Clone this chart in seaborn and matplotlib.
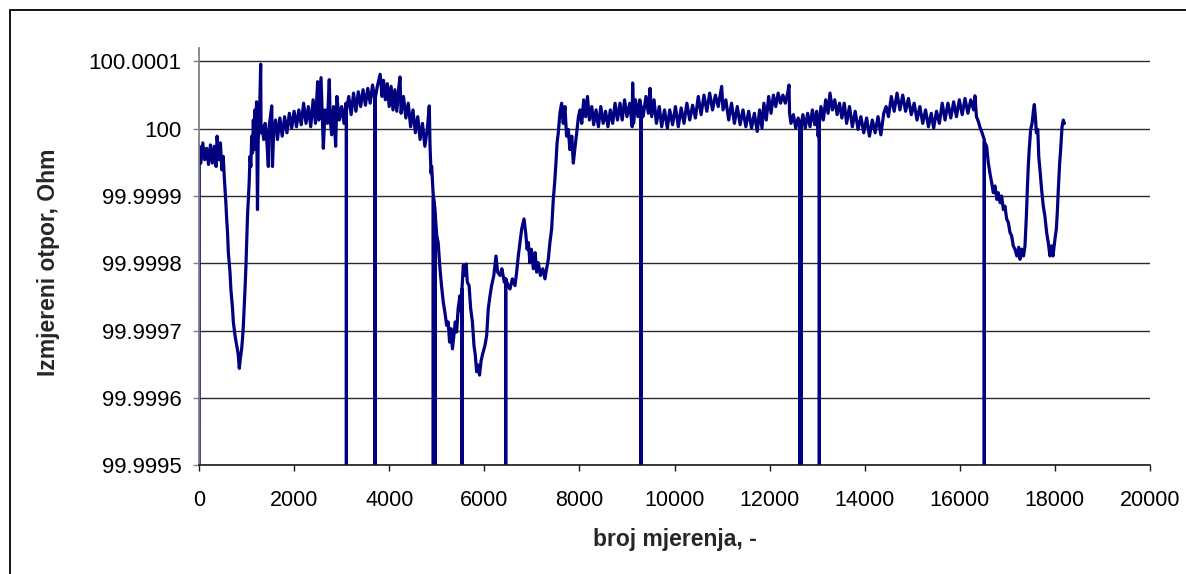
import numpy as np
import pandas as pd
import matplotlib
matplotlib.use("Agg")
import matplotlib.pyplot as plt
import seaborn as sns
from matplotlib.lines import Line2D

# ---------------- data ----------------
# deviation of the measured resistance from 100 Ohm, in micro-Ohm
L = -1000  # momentary drop-outs, far below the visible axis range

n_seg1 = [0, 5, 40, 80, 120, 160, 200, 240, 280, 320,
          360, 380, 420, 450, 480, 510, 530, 547, 565, 582,
          600, 617, 635, 652, 670, 687, 705, 722, 740, 757,
          780, 806, 825, 848, 870, 897, 915, 933, 950, 968,
          985, 1003, 1020, 1038, 1055, 1073, 1090, 1108, 1125, 1143,
          1160, 1175, 1195, 1210, 1220, 1230, 1245, 1270, 1297, 1305,
          1330, 1360, 1390, 1420, 1458, 1475, 1530, 1545, 1570, 1610,
          1650, 1700, 1750, 1800, 1850, 1900, 1950, 2000, 2050, 2100,
          2150, 2200, 2250, 2300, 2350, 2400, 2450, 2495, 2520, 2566,
          2590, 2615, 2650, 2700, 2740, 2760, 2790, 2830, 2874, 2900,
          2950, 3000, 3050, 3090, 3099, 3100, 3101]
d_seg1 = [L, -26, -51, -21, -46, -29, -53, -24, -51, -26,
          -56, -11, -46, -21, -61, -41, -70, -90, -110, -134,
          -154, -184, -199, -213, -238, -253, -267, -287, -297, -307,
          -317, -327, -336, -356, -341, -327, -312, -292, -267, -238,
          -208, -169, -130, -105, -80, -41, -56, -11, -36, 13,
          -31, 28, -16, 40, -41, -120, -16, 8, 96, -6,
          3, -16, 8, -11, -56, 3, 34, -56, -6, 13,
          -16, 16, -11, 18, -6, 23, 1, 26, 3, 28,
          6, 38, 8, 33, 3, 43, 8, 70, 13, 76,
          23, -29, 28, 8, 73, 13, -9, 33, -26, 48,
          13, 33, 8, 38, 28, L, 28]

n_seg2 = [3150, 3200, 3250, 3300, 3350, 3400, 3450, 3500, 3550, 3600,
          3650, 3699, 3700, 3701, 3750, 3810, 3850, 3880, 3920, 3960,
          4000, 4040, 4080, 4120, 4160, 4200, 4227, 4250, 4300, 4350,
          4400, 4450, 4500, 4550, 4600, 4650, 4700, 4750, 4800, 4843,
          4858, 4880, 4893, 4920, 4927, 4928, 4929, 4950, 4969, 4970,
          4971, 5000, 5030, 5068, 5100, 5138, 5170, 5208, 5240, 5270,
          5300, 5330, 5360, 5390, 5418, 5450, 5488, 5510, 5529, 5530,
          5531, 5558, 5590, 5620, 5643, 5680, 5713, 5750, 5783, 5810,
          5839, 5870, 5900, 5930, 5960, 6014, 6050, 6084, 6120, 6154,
          6200, 6246, 6280, 6330, 6370, 6420, 6449, 6450, 6451]
d_seg2 = [48, 21, 53, 26, 55, 33, 58, 35, 60, 38,
          65, 43, L, 43, 63, 81, 48, 72, 43, 67,
          33, 63, 28, 58, 26, 60, 77, 23, 48, 16,
          38, 3, 28, -6, 18, -16, 8, -26, -1, 34,
          -24, -66, -56, -90, -100, L, -100, -110, -125, L,
          -130, -159, -169, -208, -233, -258, -272, -292, -287, -317,
          -297, -327, -307, -287, -302, -267, -248, -272, -238, L,
          -238, -203, -218, -201, -228, -233, -267, -287, -322, -336,
          -361, -351, -366, -346, -336, -322, -307, -267, -248, -233,
          -218, -189, -213, -218, -208, -228, -223, L, -223]

n_seg3 = [6500, 6540, 6590, 6645, 6680, 6715, 6750, 6786, 6835, 6870,
          6900, 6926, 6960, 6990, 7031, 7070, 7100, 7136, 7180, 7230,
          7276, 7310, 7346, 7380, 7416, 7451, 7480, 7507, 7530, 7556,
          7590, 7626, 7660, 7696, 7730, 7767, 7800, 7840, 7872, 7910,
          7943, 7980, 8013, 8050, 8090, 8130, 8170, 8210, 8260, 8300,
          8350, 8400, 8450, 8500, 8550, 8600, 8650, 8700, 8750, 8800,
          8854, 8900, 8950, 9000, 9060, 9110, 9120, 9140, 9180, 9230,
          9270, 9294, 9295, 9296]
d_seg3 = [-233, -238, -223, -233, -213, -189, -169, -149, -134, -154,
          -179, -169, -199, -179, -208, -184, -213, -199, -218, -208,
          -223, -208, -194, -169, -149, -105, -80, -51, -21, -6,
          23, 38, 8, 33, -11, -1, -31, -11, -51, -26,
          -6, 18, 28, 8, 43, 18, 48, 13, 33, 6,
          28, 3, 33, 8, 26, 3, 28, 8, 38, 13,
          38, 13, 43, 18, 38, 3, 68, 8, 43, 18,
          43, 33, L, 33]

n_seg4 = [9340, 9400, 9450, 9485, 9520, 9570, 9620, 9680, 9730, 9790,
          9850, 9900, 9960, 10020, 10080, 10140, 10200, 10260, 10320, 10380,
          10440, 10500, 10560, 10620, 10680, 10740, 10800, 10860, 10920, 10992,
          11020, 11080, 11140, 11200, 11260, 11320, 11380, 11440, 11500, 11560,
          11620, 11680, 11740, 11790, 11840, 11880, 11930, 11980, 12030, 12080,
          12130, 12180, 12230, 12280, 12330, 12380, 12408, 12420, 12450, 12500,
          12550, 12600, 12639, 12640, 12641, 12659, 12660, 12661, 12700]
d_seg4 = [18, 48, 23, 60, 18, 43, 8, 33, 3, 28,
          1, 28, 6, 33, 3, 31, 8, 38, 13, 35,
          16, 48, 21, 50, 26, 53, 28, 50, 33, 63,
          28, 43, 13, 38, 8, 33, 6, 28, 3, 26,
          1, 23, -4, 28, 1, 38, 13, 48, 23, 50,
          33, 53, 38, 50, 38, 53, 65, 23, 8, 21,
          1, 16, 3, L, 3, 6, L, 6, 21]

n_seg5 = [12750, 12800, 12850, 12900, 12950, 12990, 13020, 13045, 13046, 13047,
          13080, 13130, 13180, 13230, 13270, 13320, 13370, 13420, 13470, 13520,
          13570, 13620, 13680, 13740, 13800, 13860, 13920, 13980, 14040, 14100,
          14160, 14220, 14280, 14340, 14400, 14450, 14500, 14560, 14620, 14680,
          14740, 14800, 14860, 14920, 14980, 15040, 15100, 15160, 15220, 15280,
          15340, 15400, 15450, 15510, 15570, 15630, 15690, 15750, 15810, 15870,
          15930, 15990, 16050, 16110, 16170, 16230, 16290, 16319, 16350, 16389,
          16430, 16459, 16490, 16514, 16515, 16516]
d_seg5 = [1, 23, 3, 28, 6, 26, -11, 8, L, 8,
          33, 13, 43, 23, 53, 28, 43, 21, 38, 16,
          38, 8, 33, 3, 26, -1, 18, -6, 16, -11,
          13, -6, 18, -9, 23, 33, 18, 48, 26, 53,
          28, 50, 26, 45, 21, 38, 13, 33, 8, 28,
          3, 23, 1, 26, 8, 38, 13, 38, 16, 40,
          18, 43, 21, 45, 23, 43, 28, 49, 18, 11,
          1, -4, -11, -16, L, -19]

n_seg6 = [16564, 16600, 16634, 16670, 16705, 16740, 16780, 16810, 16850, 16880,
          16915, 16950, 16985, 17020, 17055, 17090, 17125, 17160, 17200, 17240,
          17266, 17300, 17340, 17371, 17400, 17420, 17440, 17460, 17490, 17520,
          17550, 17567, 17590, 17610, 17640, 17660, 17686, 17720, 17756, 17790,
          17826, 17860, 17896, 17930, 17960, 18001, 18030, 18050, 18072, 18100,
          18121, 18150, 18177, 18200]
d_seg6 = [-26, -51, -66, -80, -95, -85, -105, -95, -110, -100,
          -120, -115, -134, -139, -154, -159, -174, -179, -189, -176,
          -194, -179, -189, -174, -130, -90, -56, -31, -1, 8,
          28, 36, 18, -6, -1, -41, -61, -90, -115, -130,
          -154, -169, -189, -174, -189, -164, -149, -125, -90, -51,
          -31, 3, 13, 8]

y_ticks = [99.9995, 99.9996, 99.9997, 99.9998, 99.9999, 100.0, 100.0001]
y_tick_labels = ["99.9995", "99.9996", "99.9997", "99.9998", "99.9999", "100", "100.0001"]
x_ticks = [0, 2000, 4000, 6000, 8000, 10000, 12000, 14000, 16000, 18000, 20000]
x_label = "broj mjerenja, -"
y_label = "Izmjereni otpor, Ohm"

# ---------------- assemble ----------------
n_all = n_seg1 + n_seg2 + n_seg3 + n_seg4 + n_seg5 + n_seg6
d_all = d_seg1 + d_seg2 + d_seg3 + d_seg4 + d_seg5 + d_seg6
df = pd.DataFrame({"broj": n_all,
                   "otpor": 100.0 + np.array(d_all, dtype=float) * 1e-6})

# ---------------- plot ----------------
sns.set_theme(style="white")
plt.rcParams["font.family"] = ["Liberation Sans", "DejaVu Sans"]

W, H = 1186, 574
fig = plt.figure(figsize=(W / 100, H / 100), dpi=100)
ax = fig.add_axes([199 / W, 1 - 465.3 / H, (1150 - 199) / W, (465.3 - 48) / H])

ax.set_axisbelow(True)
ax.grid(axis="y", color="#2a2a2a", linewidth=1.0)
ax.grid(axis="x", visible=False)

sns.lineplot(data=df, x="broj", y="otpor", ax=ax, color="#000080",
             linewidth=2.3, estimator=None, sort=False, legend=False)

ax.set_xlim(0, 20000)
ax.set_ylim(99.9995, 100.00012)
ax.set_yticks(y_ticks)
ax.set_yticklabels(y_tick_labels)
ax.set_xticks(x_ticks)
ax.set_xticklabels([str(t) for t in x_ticks])

for s in ["top", "right"]:
    ax.spines[s].set_visible(False)
ax.spines["left"].set_color("#808080")
ax.spines["left"].set_linewidth(1.3)
ax.spines["bottom"].set_color("#1a1a1a")
ax.spines["bottom"].set_linewidth(1.2)

ax.tick_params(axis="y", direction="out", length=4.5, width=1, color="#808080",
               labelsize=16, pad=8, left=True, labelcolor="black")
ax.tick_params(axis="x", direction="out", length=4.5, width=1, color="#1a1a1a",
               labelsize=15.5, pad=13, bottom=True, labelcolor="black")

ax.set_xlabel(x_label, fontsize=16.5, fontweight="bold", va="center")
ax.xaxis.set_label_coords(0.5, -0.179)
ax.set_ylabel(y_label, fontsize=16.5, fontweight="bold", va="center")
ax.yaxis.set_label_coords(-0.158, 0.487)

# outer chart-area frame (only top and left edges lie inside the image)
fig.add_artist(Line2D([10 / W, 1.0], [1 - 10 / H, 1 - 10 / H],
                      transform=fig.transFigure, color="black", linewidth=1.3))
fig.add_artist(Line2D([10 / W, 10 / W], [0.0, 1 - 10 / H],
                      transform=fig.transFigure, color="black", linewidth=1.3))

fig.savefig("out.png", dpi=100)
